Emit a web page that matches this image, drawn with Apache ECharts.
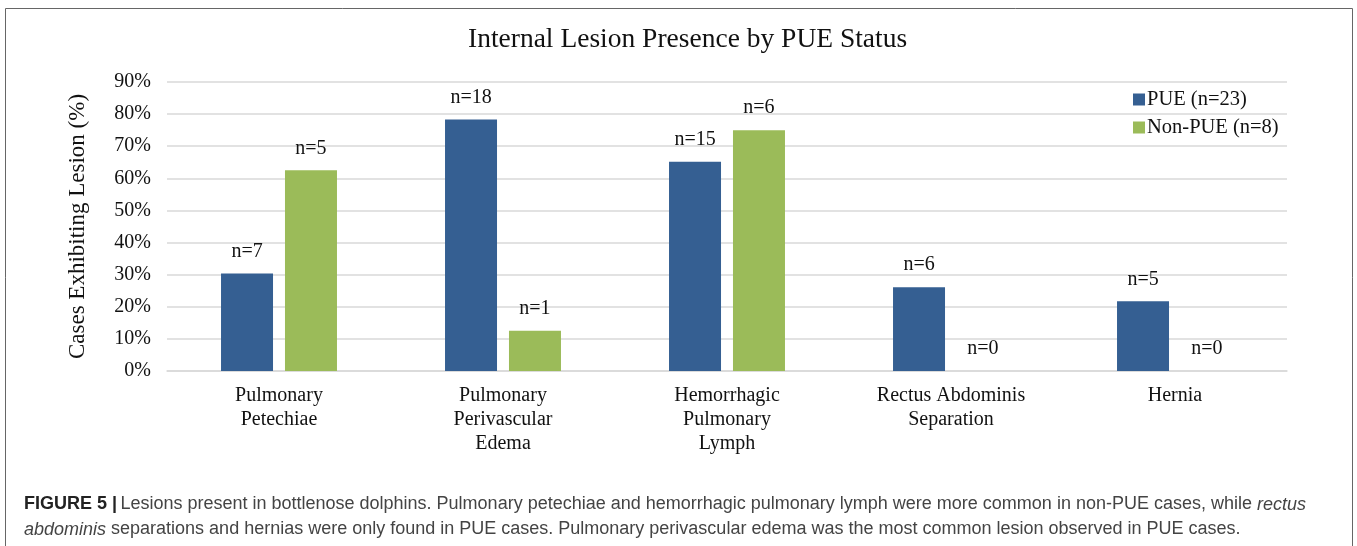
<!DOCTYPE html>
<html><head><meta charset="utf-8">
<script src="https://cdn.jsdelivr.net/npm/echarts@6/dist/echarts.min.js"></script>
<style>html,body{margin:0;padding:0;background:#fff}#c{width:1357px;height:546px}</style>
</head><body><div id="c"></div>
<script>
const categories = ['Pulmonary\nPetechiae', 'Pulmonary\nPerivascular\nEdema', 'Hemorrhagic\nPulmonary\nLymph', 'Rectus Abdominis\nSeparation', 'Hernia'];
const pueValues = [30.4, 78.3, 65.2, 26.1, 21.7];
const pueCounts = ['n=7', 'n=18', 'n=15', 'n=6', 'n=5'];
const nonPueValues = [62.5, 12.5, 75.0, 0, 0];
const nonPueCounts = ['n=5', 'n=1', 'n=6', 'n=0', 'n=0'];
const seriesNames = ['PUE (n=23)', 'Non-PUE (n=8)'];
const yTicks = [0, 10, 20, 30, 40, 50, 60, 70, 80, 90];

const serif = 'Liberation Serif';
const chart = echarts.init(document.getElementById('c'));
function lbl(counts) {
  return { show: true, position: 'top', distance: 12, fontFamily: serif, fontSize: 20, color: '#111',
    formatter: p => counts[p.dataIndex] };
}
chart.setOption({
  animation: false,
  title: { text: 'Internal Lesion Presence by PUE Status', left: 463, top: 21,
    textStyle: { fontFamily: serif, fontSize: 27.5, fontWeight: 'normal', color: '#111' } },
  legend: { orient: 'vertical', left: 1128, top: 84, itemWidth: 12, itemHeight: 12, itemGap: 7,
    icon: 'rect', textStyle: { fontFamily: serif, fontSize: 20.5, color: '#111', padding: [0,0,0,-3] } },
  grid: { left: 167, right: 70, top: 82, bottom: 175 },
  xAxis: { type: 'category', data: categories,
    axisLine: { show: true, lineStyle: { color: '#d9d9d9', width: 1.5 } }, axisTick: { show: false },
    axisLabel: { fontFamily: serif, fontSize: 20, color: '#111', lineHeight: 24, margin: 13, interval: 0 } },
  yAxis: { type: 'value', min: 0, max: 90, interval: 10,
    name: 'Cases Exhibiting Lesion (%)', nameLocation: 'middle', nameGap: 78,
    nameTextStyle: { fontFamily: serif, fontSize: 23, color: '#111' },
    axisLine: { show: false }, axisTick: { show: false },
    axisLabel: { fontFamily: serif, fontSize: 20, color: '#111', margin: 16,
      formatter: v => yTicks.includes(v) ? v + '%' : '' },
    splitLine: { lineStyle: { color: '#d9d9d9', width: 1.5 } } },
  series: [
    { name: seriesNames[0], type: 'bar', data: pueValues, barWidth: 52, barGap: '23%',
      itemStyle: { color: '#355F92' }, label: lbl(pueCounts) },
    { name: seriesNames[1], type: 'bar', data: nonPueValues, barWidth: 52,
      itemStyle: { color: '#9BBB59' }, label: lbl(nonPueCounts) }
  ],
  graphic: [
    { type: 'polyline', shape: { points: [[5.5, 546], [5.5, 8.5], [1352.5, 8.5], [1352.5, 546]] },
      style: { stroke: '#666', lineWidth: 1, fill: null } },
    { type: 'text', left: 24, top: 492, style: {
      rich: { b: { fontFamily: 'Liberation Sans', fontSize: 18, fontWeight: 'bold', fill: '#222' },
              n: { fontFamily: 'Liberation Sans', fontSize: 18, fill: '#444' },
              i: { fontFamily: 'Liberation Sans', fontSize: 18, fontStyle: 'italic', fill: '#444' } },
      text: '{b|FIGURE 5 |} {n|Lesions present in bottlenose dolphins. Pulmonary petechiae and hemorrhagic pulmonary lymph were more common in non-PUE cases, while }{i|rectus}\n{i|abdominis}{n| separations and hernias were only found in PUE cases. Pulmonary perivascular edema was the most common lesion observed in PUE cases.}',
      lineHeight: 25 } }
  ]
});
</script></body></html>
